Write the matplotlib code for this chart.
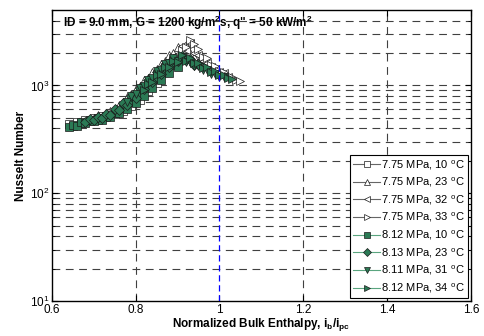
import matplotlib
matplotlib.use('Agg')
import matplotlib.pyplot as plt
from matplotlib.lines import Line2D
from matplotlib.ticker import FuncFormatter, LogLocator

plt.rcParams['font.family'] = ['Liberation Sans', 'DejaVu Sans']
plt.rcParams['mathtext.fontset'] = 'custom'
plt.rcParams['mathtext.rm'] = 'Liberation Sans'
plt.rcParams['mathtext.bf'] = 'Liberation Sans:bold'

# open markers: 7.75 MPa runs
x_775_10 = [0.64,0.65,0.66,0.67,0.68,0.69,0.70,0.71,0.72,0.73,0.74,0.75,0.76,0.77,0.78,0.79,0.80,0.81,0.82,0.83,0.84,0.85,0.86]
y_775_10 = [440,420,455,445,480,465,500,480,520,505,560,540,610,580,680,650,790,740,950,880,1130,1060,1310]
x_775_23 = [0.70,0.71,0.72,0.73,0.74,0.75,0.76,0.77,0.78,0.79,0.80,0.81,0.82,0.83,0.84,0.85,0.86,0.87,0.88,0.89,0.90,0.91,0.92,0.93,0.94,0.95]
y_775_23 = [500,530,515,560,585,610,660,700,780,830,930,990,1120,1180,1330,1410,1590,1680,1900,1990,2250,2100,2350,1980,1850,1650]
x_775_32 = [0.80,0.81,0.82,0.83,0.84,0.85,0.86,0.87,0.88,0.89,0.90,0.91,0.92,0.93,0.94,0.95,0.96,0.97,0.98,0.99,1.00,1.01,1.02]
y_775_32 = [800,900,940,1080,1120,1300,1350,1550,1600,1850,1950,2300,2150,2450,2000,1900,1700,1620,1480,1430,1330,1300,1210]
x_775_33 = [0.84,0.85,0.86,0.87,0.88,0.89,0.90,0.91,0.92,0.93,0.94,0.95,0.96,0.97,0.98,0.99,1.00,1.01,1.02,1.03,1.04,1.05]
y_775_33 = [1050,1200,1260,1450,1500,1750,1800,2150,2250,2650,2400,2200,1850,1800,1550,1500,1370,1330,1220,1200,1120,1100]

# filled markers: ~8.1 MPa runs
x_812_10 = [0.64,0.65,0.66,0.67,0.68,0.69,0.70,0.71,0.72,0.73,0.74,0.75,0.76,0.77,0.78,0.79,0.80,0.81,0.82,0.83,0.84,0.85,0.86,0.87,0.88,0.89,0.90]
y_812_10 = [410,430,420,455,445,480,465,495,480,520,510,560,550,620,610,700,690,820,800,980,950,1150,1120,1350,1300,1550,1480]
x_813_23 = [0.68,0.69,0.70,0.71,0.72,0.73,0.74,0.75,0.76,0.77,0.78,0.79,0.80,0.81,0.82,0.83,0.84,0.85,0.86,0.87,0.88,0.89,0.90,0.91,0.92,0.93,0.94,0.95]
y_813_23 = [460,490,475,510,500,545,530,600,590,680,660,800,770,950,920,1120,1080,1320,1270,1540,1480,1750,1680,1870,1720,1750,1560,1580]
x_811_31 = [0.78,0.79,0.80,0.81,0.82,0.83,0.84,0.85,0.86,0.87,0.88,0.89,0.90,0.91,0.92,0.93,0.94,0.95,0.96,0.97,0.98,0.99,1.00,1.01]
y_811_31 = [700,800,830,950,990,1130,1180,1350,1400,1580,1600,1780,1700,1850,1650,1650,1500,1500,1380,1380,1280,1280,1200,1190]
x_812_34 = [0.82,0.83,0.84,0.85,0.86,0.87,0.88,0.89,0.90,0.91,0.92,0.93,0.94,0.95,0.96,0.97,0.98,0.99,1.00,1.01,1.02,1.03]
y_812_34 = [900,1040,1070,1240,1270,1470,1480,1700,1650,1900,1700,1800,1600,1620,1460,1480,1340,1350,1250,1240,1160,1150]

labels = ['7.75 MPa, 10 $^{\\rm o}$C', '7.75 MPa, 23 $^{\\rm o}$C', '7.75 MPa, 32 $^{\\rm o}$C', '7.75 MPa, 33 $^{\\rm o}$C',
          '8.12 MPa, 10 $^{\\rm o}$C', '8.13 MPa, 23 $^{\\rm o}$C', '8.11 MPa, 31 $^{\\rm o}$C', '8.12 MPa, 34 $^{\\rm o}$C']
series = [(x_775_10, y_775_10), (x_775_23, y_775_23), (x_775_32, y_775_32), (x_775_33, y_775_33),
          (x_812_10, y_812_10), (x_813_23, y_813_23), (x_811_31, y_811_31), (x_812_34, y_812_34)]
markers = ['s', '^', '<', '>', 's', 'D', 'v', '>']
green = '#2b7a55'

fig = plt.figure(figsize=(4.84, 3.36), dpi=100)
ax = fig.add_axes([0.107, 0.104, 0.866, 0.866])

handles = []
for i, (xs, ys) in enumerate(series):
    if i < 4:
        fc, lc = 'white', '0.4'
    else:
        fc, lc = green, '#5aa57f'
    ms = 5 if markers[i] == 'D' else 6
    ax.plot(xs, ys, linestyle='none', marker=markers[i], markersize=ms,
            markerfacecolor=fc, markeredgecolor='0.1', markeredgewidth=0.5)
    handles.append(Line2D([], [], color=lc, lw=0.8, marker=markers[i], markersize=ms - 1,
                          markerfacecolor=fc, markeredgecolor='0.1', markeredgewidth=0.5))

ax.set_yscale('log')
ax.set_xlim(0.6, 1.6)
ax.set_ylim(10, 5000)
ax.set_xticks([0.6, 0.8, 1.0, 1.2, 1.4, 1.6])
ax.xaxis.set_major_formatter(FuncFormatter(lambda v, p: '%g' % v))
ax.yaxis.set_minor_locator(LogLocator(base=10, subs=range(2, 10)))

gkw = dict(color='0.25', lw=0.8, dashes=(7, 5))
for xv in [0.8, 1.2, 1.4]:
    ax.axvline(xv, zorder=0, **gkw)
for dec in [10, 100, 1000]:
    for m in range(1, 10):
        yv = dec * m
        if 10 < yv < 5000:
            ax.axhline(yv, zorder=0, **gkw)
ax.axvline(1.0, color='blue', lw=0.9, dashes=(5, 3), zorder=3)

ax.tick_params(which='both', direction='in', top=True, right=True, labelsize=8.5)
ax.tick_params(which='major', length=4, pad=2)
ax.tick_params(which='minor', length=2)
for s in ax.spines.values():
    s.set_linewidth(1.0)

ax.set_xlabel('Normalized Bulk Enthalpy, i$_\\mathbf{b}$/i$_\\mathbf{pc}$', fontsize=8.5, fontweight='bold', labelpad=0)
ax.set_ylabel('Nusselt Number', fontsize=8.5, fontweight='bold', labelpad=2)
ax.text(0.027, 0.955, 'ID = 9.0 mm, G = 1200 kg/m$^\\mathbf{2}$s, q" = 50 kW/m$^\\mathbf{2}$',
        transform=ax.transAxes, fontsize=8.5, fontweight='bold', va='center', ha='left')

leg = ax.legend(handles, labels, loc='lower right', fontsize=8, frameon=True, fancybox=False,
                edgecolor='black', framealpha=1, handlelength=2.4, handletextpad=0.1,
                labelspacing=0.38, borderaxespad=0.25, borderpad=0.3)
leg.get_frame().set_linewidth(0.8)

plt.savefig('out.png', dpi=100)
